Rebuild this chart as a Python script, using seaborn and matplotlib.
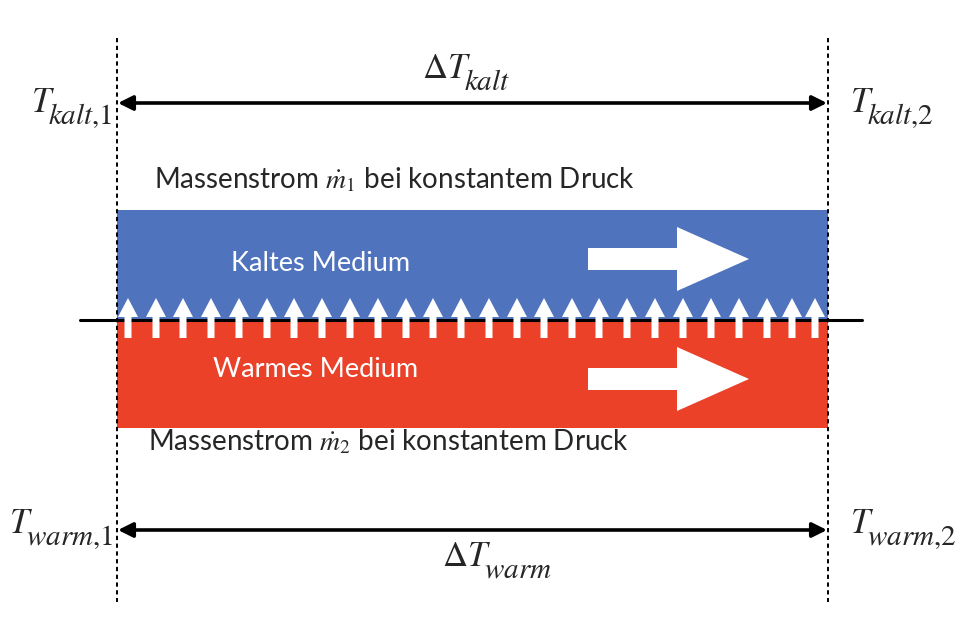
"""
Schematic of a heat exchanger section:
cold medium on top, warm medium below, heat flux upwards.
"""

import numpy as np
import matplotlib.pyplot as plt
import seaborn as sns

# Layout in pixel-like units of the 968 x 628 canvas
x_left, x_right = 117, 828
band_top, band_mid, band_bottom = 210, 320, 428

band_names = ['Kaltes Medium', 'Warmes Medium']
band_colors = ['#5073BE', '#EA4128']

# x positions of the small heat-flux arrows along the wall
flux_arrow_x = [128, 156, 183, 211, 239, 267, 294, 322, 350, 378, 406, 433,
                461, 489, 517, 544, 572, 599, 627, 655, 683, 711, 739, 767,
                792, 815]

# (main symbol, subscript) pairs for the temperature labels
labels_top = [(r'$T$', r'$kalt{,}1$'), (r'$\Delta T$', r'$kalt$'),
              (r'$T$', r'$kalt{,}2$')]
labels_bottom = [(r'$T$', r'$warm{,}1$'), (r'$\Delta T$', r'$warm$'),
                 (r'$T$', r'$warm{,}2$')]
flow_texts = [r'Massenstrom $\dot{m}_1$ bei konstantem Druck',
              r'Massenstrom $\dot{m}_2$ bei konstantem Druck']

sns.set_theme(style='white')
plt.rcParams['font.family'] = ['Lato', 'DejaVu Sans']
plt.rcParams['mathtext.fontset'] = 'stix'

fig = plt.figure(figsize=(9.68, 6.28), dpi=100)
ax = fig.add_axes([0, 0, 1, 1])
ax.set_xlim(0, 968)
ax.set_ylim(628, 0)
ax.axis('off')
renderer = fig.canvas.get_renderer()


def sub_label(x, y, pair, ha='left', size=25, sub_size=21, drop=12, kern=7):
    """Draw a symbol with an enlarged subscript, aligned at x."""
    main = ax.text(0, y, pair[0], fontsize=size, va='baseline')
    sub = ax.text(0, y + drop, pair[1], fontsize=sub_size, va='baseline')
    w_main = main.get_window_extent(renderer).width - kern
    w_sub = sub.get_window_extent(renderer).width
    total = w_main + w_sub
    if ha == 'right':
        x0 = x - total
    elif ha == 'center':
        x0 = x - total / 2
    else:
        x0 = x
    main.set_x(x0)
    sub.set_x(x0 + w_main)


# Two media bands
ax.add_patch(plt.Rectangle((x_left, band_top), x_right - x_left,
                           band_mid - band_top, color=band_colors[0], lw=0))
ax.add_patch(plt.Rectangle((x_left, band_mid), x_right - x_left,
                           band_bottom - band_mid, color=band_colors[1], lw=0))

# Wall line
ax.plot([80, 862], [band_mid, band_mid], color='black', lw=2.2, zorder=3)

# Dotted boundaries
for xv in (x_left, x_right):
    ax.plot([xv, xv], [38, 602], color='black', lw=1.4,
            linestyle=(0, (2.2, 1.8)), zorder=4)

# Heat flux arrows
for xa in flux_arrow_x:
    ax.arrow(xa, 338, 0, -40, width=7, head_width=20, head_length=19,
             length_includes_head=True, color='white', lw=0, zorder=5)

# Flow direction arrows
for yc in (259, 379):
    ax.arrow(588, yc, 161, 0, width=22, head_width=64, head_length=72,
             length_includes_head=True, color='white', lw=0, zorder=5)

# Temperature span arrows
for ya in (103, 530):
    ax.annotate('', xy=(x_left + 1, ya), xytext=(x_right - 1, ya),
                arrowprops=dict(arrowstyle='<|-|>', color='black', lw=2.6,
                                mutation_scale=22, shrinkA=0, shrinkB=0),
                zorder=4)

# Temperature labels
sub_label(113, 112, labels_top[0], ha='right')
sub_label(466, 78, labels_top[1], ha='center')
sub_label(850, 112, labels_top[2], ha='left')
sub_label(113, 533, labels_bottom[0], ha='right')
sub_label(497, 566, labels_bottom[1], ha='center')
sub_label(850, 533, labels_bottom[2], ha='left')

# Flow descriptions
ax.text(394, 188, flow_texts[0], fontsize=20, ha='center', va='baseline')
ax.text(388, 450, flow_texts[1], fontsize=20, ha='center', va='baseline')

# Medium names
ax.text(321, 271, band_names[0], fontsize=19.5, color='white',
        ha='center', va='baseline', zorder=6)
ax.text(316, 377, band_names[1], fontsize=19.5, color='white',
        ha='center', va='baseline', zorder=6)

fig.savefig('out.png', dpi=100)
